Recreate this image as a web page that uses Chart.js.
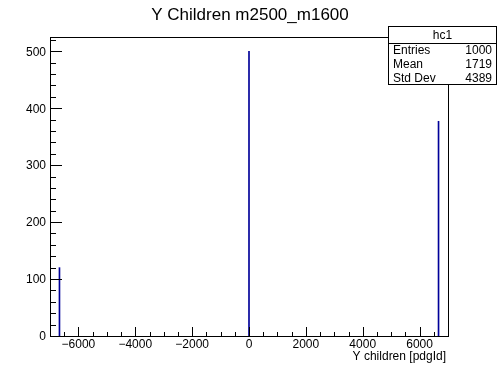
<!DOCTYPE html>
<html>
<head>
<meta charset="utf-8">
<script src="https://cdn.jsdelivr.net/npm/chart.js@4"></script>
<style>
  html, body { margin: 0; padding: 0; background: #fff; }
  canvas { display: block; }
</style>
</head>
<body>
<canvas id="c" width="498" height="374"></canvas>
<script>
// données de l'histogramme
const binCenters = [-6667, 0, 6667];
const counts = [120, 500, 377];

const xTickValues = [-6000, -4000, -2000, 0, 2000, 4000, 6000];
const xTickLabels = ['\u22126000', '\u22124000', '\u22122000', '0', '2000', '4000', '6000'];
const yTickValues = [0, 100, 200, 300, 400, 500];
const yTickLabels = ['0', '100', '200', '300', '400', '500'];

const titleText = 'Y Children m2500_m1600';
const xAxisTitle = 'Y children [pdgId]';
const statsName = 'hc1';
const statsLabels = ['Entries', 'Mean', 'Std Dev'];
const statsValues = ['1000', '1719', '4389'];

const FONT = '"Liberation Sans", Arial, sans-serif';

// cadre, graduations internes, textes façon ROOT
const rootStyle = {
    id: 'rootStyle',
    afterDraw(chart) {
        const ctx = chart.ctx;
        const a = chart.chartArea;
        const xs = chart.scales.x;
        const ys = chart.scales.y;
        ctx.save();
        ctx.strokeStyle = '#000';
        ctx.lineWidth = 1;

        // cadre
        ctx.strokeRect(Math.round(a.left) + 0.5, Math.round(a.top) + 0.5,
            Math.round(a.right - a.left), Math.round(a.bottom - a.top));

        ctx.beginPath();
        // graduations x : tous les 500, majeures tous les 2000
        for (let v = -7000; v <= 7000; v += 500) {
            const px = Math.round(xs.getPixelForValue(v)) + 0.5;
            const len = (v % 2000 === 0) ? 9 : 4;
            ctx.moveTo(px, a.bottom);
            ctx.lineTo(px, a.bottom - len);
        }
        // graduations y : tous les 20, majeures tous les 100
        for (let v = 0; v <= 520; v += 20) {
            const py = Math.round(ys.getPixelForValue(v)) + 0.5;
            const len = (v % 100 === 0) ? 12 : 6;
            ctx.moveTo(a.left, py);
            ctx.lineTo(a.left + len, py);
        }
        ctx.stroke();

        ctx.fillStyle = '#000';
        ctx.font = '12px ' + FONT;

        // étiquettes x
        ctx.textAlign = 'center';
        ctx.textBaseline = 'alphabetic';
        xTickValues.forEach(function(v, i) {
            ctx.fillText(xTickLabels[i], xs.getPixelForValue(v), a.bottom + 12);
        });

        // étiquettes y
        ctx.textAlign = 'right';
        ctx.textBaseline = 'middle';
        yTickValues.forEach(function(v, i) {
            ctx.fillText(yTickLabels[i], a.left - 4, ys.getPixelForValue(v) + 1);
        });

        // titre de l'axe x
        ctx.textAlign = 'right';
        ctx.textBaseline = 'alphabetic';
        ctx.fillText(xAxisTitle, a.right - 2, a.bottom + 24);

        // titre
        ctx.textAlign = 'center';
        ctx.font = '17px ' + FONT;
        ctx.fillText(titleText, 250, 20);

        // boîte de statistiques
        const bx = 388, by = 26, bw = 109, bh = 59;
        ctx.fillStyle = '#fff';
        ctx.fillRect(bx, by, bw, bh);
        ctx.strokeRect(bx + 0.5, by + 0.5, bw - 1, bh - 1);
        ctx.beginPath();
        ctx.moveTo(bx, by + 17.5);
        ctx.lineTo(bx + bw, by + 17.5);
        ctx.stroke();

        ctx.fillStyle = '#000';
        ctx.font = '12px ' + FONT;
        ctx.textAlign = 'center';
        ctx.fillText(statsName, bx + bw / 2, by + 13);
        statsLabels.forEach(function(lbl, i) {
            const y = by + 28 + i * 14;
            ctx.textAlign = 'left';
            ctx.fillText(lbl, bx + 5, y);
            ctx.textAlign = 'right';
            ctx.fillText(statsValues[i], bx + bw - 5, y);
        });
        ctx.restore();
    }
};

const data = {
    datasets: [{
        label: statsName,
        data: binCenters.map(function(x, i) { return { x: x, y: counts[i] }; }),
        backgroundColor: '#000099',
        borderWidth: 0,
        barThickness: 1
    }]
};

const config = {
    type: 'bar',
    data: data,
    options: {
        responsive: false,
        animation: false,
        layout: { padding: { top: 37, right: 50, left: 0, bottom: 0 } },
        plugins: {
            legend: { display: false },
            title: { display: false },
            tooltip: { enabled: false }
        },
        scales: {
            x: {
                type: 'linear',
                offset: false,
                min: -7000,
                max: 7000,
                grid: { display: false, offset: false },
                border: { display: false },
                ticks: { display: false },
                afterFit: function(scale) { scale.height = 38; }
            },
            y: {
                min: 0,
                max: 525,
                grid: { display: false },
                border: { display: false },
                ticks: { display: false },
                afterFit: function(scale) { scale.width = 50; }
            }
        }
    },
    plugins: [rootStyle]
};

let context = document.getElementById('c').getContext('2d');
new Chart(context, config);
</script>
</body>
</html>
